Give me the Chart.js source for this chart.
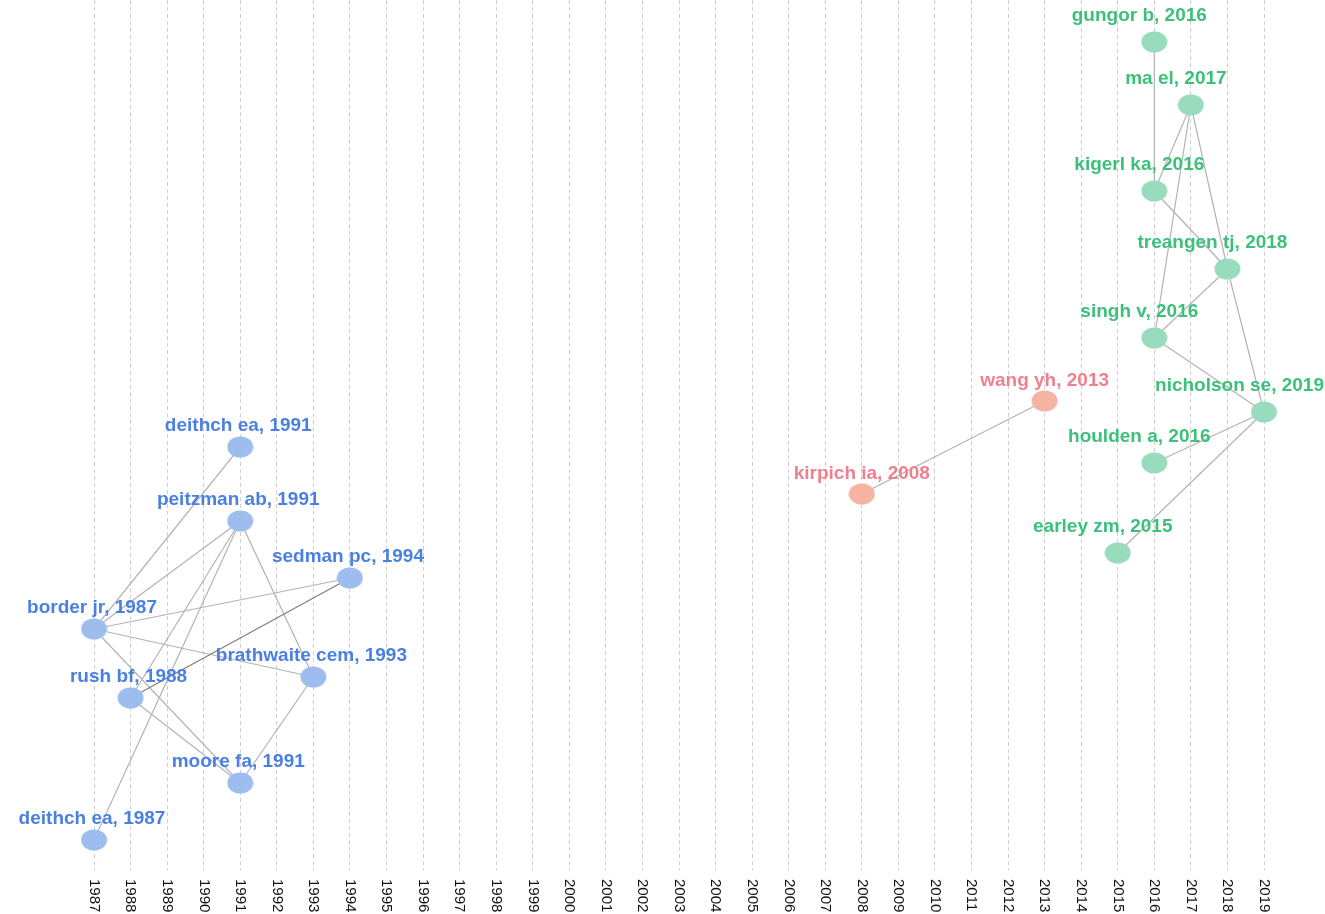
<!DOCTYPE html>
<html>
<head>
<meta charset="utf-8">
<script src="https://cdn.jsdelivr.net/npm/chart.js@4.4.1/dist/chart.umd.min.js"></script>
<style>
  html, body { margin: 0; background: #fff; }
  #wrap { width: 1325px; height: 914px; position: relative; }
</style>
</head>
<body>
<div id="wrap"><canvas id="histo"></canvas></div>
<script>
// tick labels on the time axis
const years = [];
for (let y = 1987; y <= 2019; y++) years.push(y);

// nodes of the citation graph
const nodeNames = [
  'deithch ea, 1991', 'peitzman ab, 1991', 'sedman pc, 1994', 'border jr, 1987',
  'brathwaite cem, 1993', 'rush bf, 1988', 'moore fa, 1991', 'deithch ea, 1987',
  'kirpich ia, 2008', 'wang yh, 2013',
  'gungor b, 2016', 'ma el, 2017', 'kigerl ka, 2016', 'treangen tj, 2018',
  'singh v, 2016', 'nicholson se, 2019', 'houlden a, 2016', 'earley zm, 2015'
];
const nodeYears = [1991, 1991, 1994, 1987, 1993, 1988, 1991, 1987, 2008, 2013,
  2016, 2017, 2016, 2018, 2016, 2019, 2016, 2015];
// vertical layout rank (top = 0)
const nodeRows = [44.7, 52.1, 57.8, 62.9, 67.7, 69.8, 78.3, 84.0, 49.4, 40.1,
  4.2, 10.5, 19.1, 26.9, 33.8, 41.2, 46.3, 55.3];
const nodeGroups = ['blue', 'blue', 'blue', 'blue', 'blue', 'blue', 'blue', 'blue', 'red', 'red',
  'green', 'green', 'green', 'green', 'green', 'green', 'green', 'green'];

// citation links
const links = [
  ['border jr, 1987', 'deithch ea, 1991'],
  ['border jr, 1987', 'peitzman ab, 1991'],
  ['border jr, 1987', 'sedman pc, 1994'],
  ['border jr, 1987', 'brathwaite cem, 1993'],
  ['border jr, 1987', 'moore fa, 1991'],
  ['rush bf, 1988', 'peitzman ab, 1991'],
  ['deithch ea, 1987', 'peitzman ab, 1991'],
  ['brathwaite cem, 1993', 'peitzman ab, 1991'],
  ['rush bf, 1988', 'sedman pc, 1994'],
  ['rush bf, 1988', 'moore fa, 1991'],
  ['moore fa, 1991', 'brathwaite cem, 1993'],
  ['kirpich ia, 2008', 'wang yh, 2013'],
  ['kigerl ka, 2016', 'gungor b, 2016'],
  ['kigerl ka, 2016', 'ma el, 2017'],
  ['singh v, 2016', 'ma el, 2017'],
  ['ma el, 2017', 'treangen tj, 2018'],
  ['kigerl ka, 2016', 'treangen tj, 2018'],
  ['singh v, 2016', 'treangen tj, 2018'],
  ['treangen tj, 2018', 'nicholson se, 2019'],
  ['singh v, 2016', 'nicholson se, 2019'],
  ['houlden a, 2016', 'nicholson se, 2019'],
  ['earley zm, 2015', 'nicholson se, 2019']
];
const strongLinks = ['rush bf, 1988|sedman pc, 1994'];

const palette = {
  blue:  { fill: '#9dbdee', text: '#4a80e2', dx: -2, dy: -21 },
  red:   { fill: '#f6b3a1', text: '#f0808e', dx: 0,  dy: -20 },
  green: { fill: '#98dcbd', text: '#3cc07a', dx: -15, dy: -26 }
};

function ellipseImage(color) {
  const c = document.createElement('canvas');
  c.width = 27; c.height = 22;
  const g = c.getContext('2d');
  g.fillStyle = color;
  g.beginPath();
  g.ellipse(13.5, 11, 13, 10.5, 0, 0, Math.PI * 2);
  g.fill();
  return c;
}
const nodeImages = {
  blue: ellipseImage(palette.blue.fill),
  red: ellipseImage(palette.red.fill),
  green: ellipseImage(palette.green.fill)
};

const points = nodeNames.map((n, i) => ({ x: nodeYears[i], y: nodeRows[i], name: n }));

const linkPlugin = {
  id: 'links',
  beforeDatasetsDraw(chart) {
    const ctx = chart.ctx;
    const xs = chart.scales.x, ys = chart.scales.y;
    ctx.save();
    ctx.lineWidth = 1.2;
    links.forEach(([a, b]) => {
      const ia = nodeNames.indexOf(a), ib = nodeNames.indexOf(b);
      const strong = strongLinks.includes(a + '|' + b);
      ctx.strokeStyle = strong ? '#7d7d7d' : '#b3b3b3';
      ctx.beginPath();
      ctx.moveTo(xs.getPixelForValue(nodeYears[ia]), ys.getPixelForValue(nodeRows[ia]));
      ctx.lineTo(xs.getPixelForValue(nodeYears[ib]), ys.getPixelForValue(nodeRows[ib]));
      ctx.stroke();
    });
    ctx.restore();
  }
};

const labelPlugin = {
  id: 'nodeLabels',
  afterDatasetsDraw(chart) {
    const ctx = chart.ctx;
    const meta = chart.getDatasetMeta(0);
    ctx.save();
    ctx.font = 'bold 19px "Liberation Sans", Arial, sans-serif';
    ctx.textAlign = 'center';
    ctx.textBaseline = 'middle';
    meta.data.forEach((pt, i) => {
      const p = palette[nodeGroups[i]];
      const w = ctx.measureText(nodeNames[i]).width;
      let x = pt.x + p.dx;
      x = Math.max(w / 2 + 2, Math.min(chart.width - w / 2 - 1, x));
      ctx.fillStyle = p.text;
      ctx.fillText(nodeNames[i], x, pt.y + p.dy);
    });
    ctx.restore();
  }
};

const yearTickPlugin = {
  id: 'yearTicks',
  afterDraw(chart) {
    const ctx = chart.ctx;
    const xs = chart.scales.x;
    const top = chart.chartArea.bottom + 9;
    ctx.save();
    ctx.font = '15px "Liberation Sans", Arial, sans-serif';
    ctx.fillStyle = '#111';
    ctx.textAlign = 'left';
    ctx.textBaseline = 'middle';
    years.forEach(yr => {
      ctx.save();
      ctx.translate(xs.getPixelForValue(yr), top);
      ctx.rotate(Math.PI / 2);
      ctx.fillText(String(yr), 0, 0);
      ctx.restore();
    });
    ctx.restore();
  }
};

new Chart(document.getElementById('histo'), {
  type: 'scatter',
  data: {
    datasets: [{
      data: points,
      pointStyle: nodeGroups.map(g => nodeImages[g]),
      pointRadius: 12,
      pointHoverRadius: 12,
      clip: false
    }]
  },
  options: {
    responsive: true,
    maintainAspectRatio: false,
    animation: false,
    events: [],
    layout: { autoPadding: false, padding: { left: 94, right: 61, top: 0, bottom: 44 } },
    plugins: { legend: { display: false }, tooltip: { enabled: false } },
    scales: {
      x: {
        type: 'linear',
        min: 1987,
        max: 2019,
        ticks: { stepSize: 1, display: false },
        grid: { color: '#cfcfcf', lineWidth: 1, drawTicks: false },
        border: { display: false, dash: [4, 3] }
      },
      y: {
        display: false,
        reverse: true,
        min: 0,
        max: 87
      }
    }
  },
  plugins: [linkPlugin, labelPlugin, yearTickPlugin]
});
</script>
</body>
</html>
